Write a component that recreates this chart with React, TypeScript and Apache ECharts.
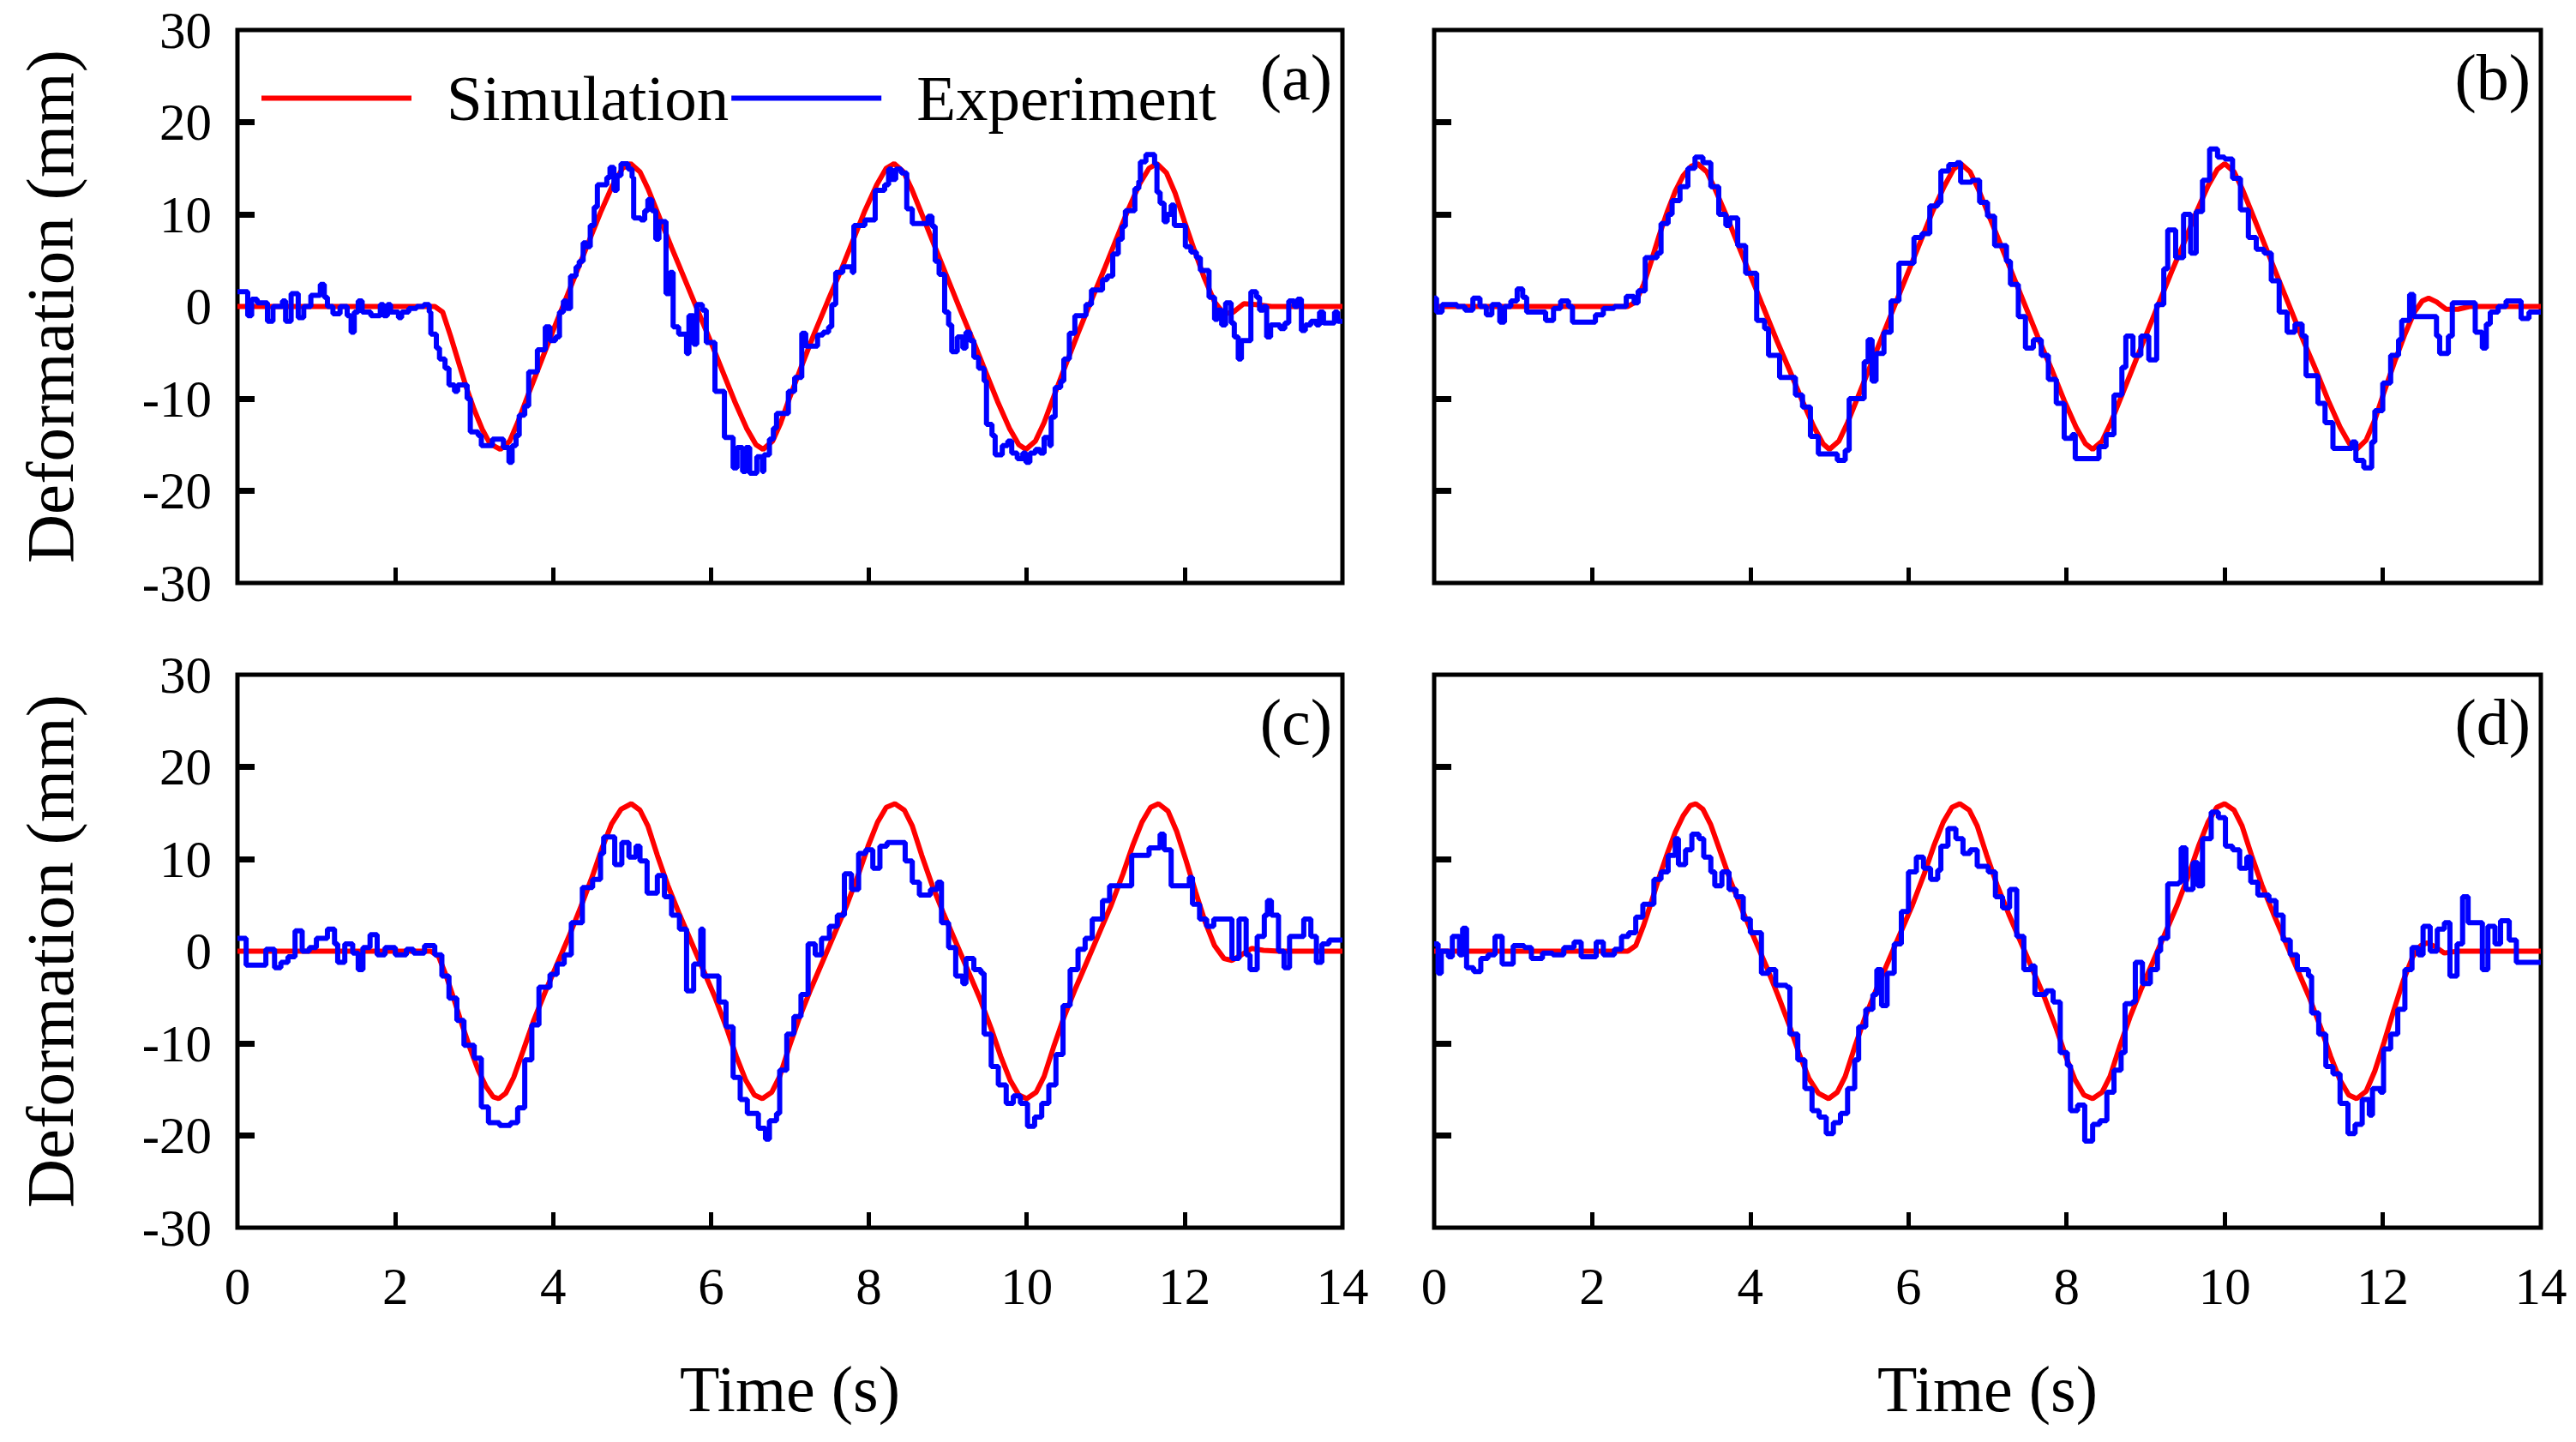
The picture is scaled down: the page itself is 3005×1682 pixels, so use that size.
import { useEffect, useRef } from 'react'
import * as echarts from 'echarts'

const FONT = '"Liberation Serif", "Times New Roman", serif'

// tick values
const xTicks = [2, 4, 6, 8, 10, 12]
const yTicks = [-20, -10, 10, 20]
const panelLabels = ['(a)', '(b)', '(c)', '(d)']

// simulation curves [time, deformation]
const simA = [[0,0],[2.5,0],[2.6,-0.6],[2.7,-3.2],[2.8,-6.0],[2.9,-8.8],[3.0,-11.2],[3.1,-13.3],[3.2,-14.9],[3.33,-15.5],[3.45,-14.6],[3.55,-12.6],[3.7,-9.2],[3.85,-5.9],[4.0,-2.6],[4.15,0.6],[4.3,3.8],[4.45,7.0],[4.6,10.2],[4.75,13.1],[4.88,15.0],[4.98,15.5],[5.1,14.6],[5.2,12.8],[5.35,9.6],[5.5,6.4],[5.66,3.1],[5.82,-0.2],[6.0,-3.9],[6.15,-7.1],[6.3,-10.3],[6.45,-13.2],[6.57,-15.0],[6.66,-15.5],[6.78,-14.6],[6.88,-12.7],[7.0,-9.8],[7.15,-6.4],[7.3,-3.1],[7.48,0.6],[7.65,4.0],[7.8,7.2],[7.95,10.4],[8.1,13.2],[8.22,15.0],[8.32,15.5],[8.44,14.6],[8.55,12.6],[8.7,9.4],[8.85,6.2],[9.0,3.0],[9.15,-0.2],[9.33,-3.9],[9.48,-7.1],[9.63,-10.3],[9.78,-13.2],[9.9,-15.0],[9.99,-15.5],[10.11,-14.6],[10.22,-12.6],[10.35,-9.6],[10.5,-6.2],[10.65,-2.9],[10.82,0.7],[10.98,4.0],[11.13,7.2],[11.28,10.4],[11.43,13.3],[11.55,15.0],[11.65,15.5],[11.77,14.5],[11.88,12.3],[12.0,9.2],[12.12,6.2],[12.25,3.1],[12.38,0.5],[12.5,-0.8],[12.62,-0.6],[12.75,0.3],[12.9,0.2],[13.1,0],[14,0]]

const simB = [[0,0],[2.45,0],[2.55,0.5],[2.65,2.4],[2.75,5.0],[2.85,7.8],[2.95,10.3],[3.05,12.5],[3.15,14.2],[3.25,15.2],[3.33,15.5],[3.45,14.6],[3.55,12.8],[3.7,9.8],[3.85,6.6],[4.0,3.4],[4.16,0],[4.33,-3.6],[4.5,-7.0],[4.65,-10.1],[4.8,-13.0],[4.92,-14.9],[5.0,-15.5],[5.12,-14.6],[5.23,-12.6],[5.38,-9.4],[5.53,-6.2],[5.68,-3.0],[5.84,0.4],[6.0,3.8],[6.15,7.0],[6.3,10.2],[6.45,13.0],[6.57,14.9],[6.66,15.5],[6.78,14.6],[6.89,12.6],[7.04,9.4],[7.19,6.2],[7.34,3.0],[7.5,-0.4],[7.66,-3.8],[7.82,-7.0],[7.97,-10.2],[8.12,-13.1],[8.24,-14.9],[8.33,-15.5],[8.45,-14.6],[8.56,-12.6],[8.71,-9.4],[8.86,-6.2],[9.01,-3.0],[9.17,0.4],[9.33,3.8],[9.49,7.0],[9.64,10.2],[9.79,13.1],[9.91,14.9],[10.0,15.5],[10.12,14.6],[10.23,12.6],[10.38,9.4],[10.53,6.2],[10.68,3.0],[10.84,-0.4],[11.0,-3.8],[11.16,-7.0],[11.31,-10.2],[11.46,-13.1],[11.58,-14.9],[11.67,-15.5],[11.79,-14.5],[11.9,-12.3],[12.02,-9.2],[12.15,-6.0],[12.28,-3.0],[12.4,-0.6],[12.5,0.6],[12.58,0.9],[12.68,0.5],[12.8,-0.3],[12.95,-0.3],[13.1,0],[14,0]]

const simC = [[0,0],[2.45,0],[2.55,-0.6],[2.65,-2.8],[2.75,-5.4],[2.85,-8.1],[2.95,-10.6],[3.05,-12.9],[3.15,-14.7],[3.24,-15.8],[3.31,-16.0],[3.4,-15.4],[3.5,-13.7],[3.62,-10.8],[3.75,-7.6],[3.9,-4.4],[4.05,-1.4],[4.2,1.6],[4.35,4.8],[4.5,8.2],[4.62,11.2],[4.74,13.8],[4.86,15.4],[4.99,16.0],[5.1,15.3],[5.2,13.6],[5.32,10.4],[5.45,7.2],[5.6,4.0],[5.75,1.0],[5.9,-2.0],[6.05,-5.0],[6.2,-8.4],[6.32,-11.4],[6.44,-14.0],[6.55,-15.6],[6.65,-16.0],[6.77,-15.3],[6.87,-13.6],[6.99,-10.4],[7.12,-7.2],[7.27,-4.0],[7.42,-1.0],[7.57,2.0],[7.72,5.0],[7.87,8.4],[7.99,11.4],[8.11,14.0],[8.22,15.6],[8.33,16.0],[8.45,15.3],[8.55,13.6],[8.67,10.4],[8.8,7.2],[8.95,4.0],[9.1,1.0],[9.25,-2.0],[9.4,-5.0],[9.55,-8.4],[9.67,-11.4],[9.79,-14.0],[9.9,-15.6],[10.0,-16.0],[10.12,-15.3],[10.22,-13.6],[10.34,-10.4],[10.47,-7.2],[10.62,-4.0],[10.77,-1.0],[10.92,2.0],[11.07,5.0],[11.22,8.4],[11.34,11.4],[11.46,14.0],[11.57,15.6],[11.67,16.0],[11.79,15.2],[11.9,13.0],[12.02,9.8],[12.14,6.4],[12.26,3.2],[12.38,0.6],[12.5,-0.8],[12.6,-1.0],[12.72,-0.4],[12.85,0.3],[13.0,0.1],[13.2,0],[14,0]]

const simD = [[0,0],[2.45,0],[2.55,0.6],[2.65,2.8],[2.75,5.4],[2.85,8.1],[2.95,10.6],[3.05,12.9],[3.15,14.7],[3.24,15.8],[3.31,16.0],[3.4,15.4],[3.5,13.7],[3.62,10.8],[3.75,7.6],[3.9,4.4],[4.05,1.4],[4.2,-1.6],[4.35,-4.8],[4.5,-8.2],[4.62,-11.2],[4.74,-13.8],[4.86,-15.4],[4.99,-16.0],[5.1,-15.3],[5.2,-13.6],[5.32,-10.4],[5.45,-7.2],[5.6,-4.0],[5.75,-1.0],[5.9,2.0],[6.05,5.0],[6.2,8.4],[6.32,11.4],[6.44,14.0],[6.55,15.6],[6.65,16.0],[6.77,15.3],[6.87,13.6],[6.99,10.4],[7.12,7.2],[7.27,4.0],[7.42,1.0],[7.57,-2.0],[7.72,-5.0],[7.87,-8.4],[7.99,-11.4],[8.11,-14.0],[8.22,-15.6],[8.33,-16.0],[8.45,-15.3],[8.55,-13.6],[8.67,-10.4],[8.8,-7.2],[8.95,-4.0],[9.1,-1.0],[9.25,2.0],[9.4,5.0],[9.55,8.4],[9.67,11.4],[9.79,14.0],[9.9,15.6],[10.0,16.0],[10.12,15.3],[10.22,13.6],[10.34,10.4],[10.47,7.2],[10.62,4.0],[10.77,1.0],[10.92,-2.0],[11.07,-5.0],[11.22,-8.4],[11.34,-11.4],[11.46,-14.0],[11.57,-15.6],[11.67,-16.0],[11.79,-15.2],[11.9,-13.0],[12.02,-9.8],[12.14,-6.4],[12.26,-3.2],[12.38,-0.6],[12.48,0.6],[12.56,0.9],[12.66,0.5],[12.78,-0.2],[12.95,0],[14,0]]

// experiment (stepped) [time, deformation]
const expA = [[0,1.6],[0.13,-1.0],[0.18,0.8],[0.25,0.4],[0.38,-1.6],[0.45,0],[0.57,0.6],[0.61,-1.6],[0.68,1.4],[0.77,-1.2],[0.84,0],[0.93,1.2],[1.05,2.4],[1.1,1.0],[1.14,0],[1.21,-0.8],[1.3,0],[1.39,-1.0],[1.44,-2.8],[1.48,-0.6],[1.53,0.6],[1.58,-0.6],[1.69,-1.0],[1.81,0.2],[1.85,-1.0],[1.9,0.2],[1.94,-0.6],[2.04,-1.2],[2.08,-0.6],[2.17,-0.2],[2.27,0],[2.36,0.2],[2.43,-0.6],[2.45,-3.0],[2.52,-4.5],[2.56,-5.7],[2.63,-6.7],[2.68,-8.5],[2.75,-9.2],[2.79,-8.5],[2.91,-10.0],[2.95,-13.6],[3.05,-14.0],[3.09,-15.1],[3.23,-14.4],[3.37,-15.3],[3.44,-16.9],[3.48,-15.1],[3.53,-14.0],[3.57,-11.8],[3.64,-10.8],[3.69,-7.1],[3.8,-4.7],[3.9,-2.2],[3.96,-3.7],[4.03,-3.3],[4.08,-0.6],[4.13,0.6],[4.17,-0.2],[4.22,3.3],[4.29,4.3],[4.33,4.9],[4.38,6.9],[4.42,6.5],[4.47,8.8],[4.52,10.8],[4.56,13.2],[4.68,14.0],[4.72,15.1],[4.77,12.6],[4.81,14.2],[4.86,15.5],[4.95,14.9],[5.0,14.0],[5.02,9.6],[5.11,9.4],[5.16,10.4],[5.2,11.6],[5.25,10.4],[5.3,7.3],[5.34,9.2],[5.43,1.4],[5.48,3.7],[5.52,-2.2],[5.59,-3.0],[5.69,-5.1],[5.72,-1.0],[5.78,-4.1],[5.82,0.2],[5.89,-0.4],[5.94,-3.9],[6.05,-9.2],[6.17,-14.2],[6.28,-17.5],[6.33,-15.3],[6.4,-17.9],[6.44,-15.3],[6.49,-18.1],[6.58,-16.3],[6.65,-17.9],[6.67,-16.1],[6.74,-14.4],[6.79,-13.2],[6.83,-11.6],[6.98,-9.2],[7.06,-7.7],[7.15,-2.9],[7.2,-4.3],[7.35,-3.1],[7.42,-2.8],[7.49,-2.2],[7.53,0.2],[7.58,3.7],[7.67,4.3],[7.79,3.7],[7.81,8.8],[7.95,9.4],[8.08,12.6],[8.2,13.2],[8.25,14.9],[8.29,13.8],[8.34,14.9],[8.41,14.5],[8.48,10.6],[8.55,9.0],[8.75,9.8],[8.8,8.7],[8.84,4.9],[8.89,3.5],[8.96,-0.6],[9.01,-2.0],[9.05,-4.9],[9.12,-3.3],[9.19,-4.5],[9.23,-2.8],[9.28,-3.7],[9.33,-5.5],[9.39,-6.7],[9.46,-8.1],[9.49,-12.8],[9.56,-14.0],[9.6,-16.1],[9.69,-15.1],[9.76,-14.6],[9.81,-15.9],[9.88,-16.5],[9.95,-15.9],[9.99,-16.9],[10.04,-15.9],[10.11,-15.5],[10.17,-15.9],[10.22,-14.2],[10.29,-15.1],[10.31,-12.0],[10.36,-8.8],[10.43,-8.1],[10.47,-5.7],[10.54,-2.9],[10.61,-1.0],[10.75,0.2],[10.82,1.8],[10.96,2.9],[11.02,3.3],[11.09,5.7],[11.16,7.3],[11.21,8.7],[11.25,10.4],[11.37,12.8],[11.42,13.6],[11.44,15.7],[11.51,16.5],[11.62,15.5],[11.65,12.4],[11.69,11.2],[11.74,9.2],[11.78,10.0],[11.83,11.0],[11.87,8.8],[12.01,6.5],[12.08,5.9],[12.15,5.3],[12.2,3.9],[12.31,1.0],[12.38,-1.4],[12.42,-0.4],[12.47,-2.0],[12.52,0.4],[12.59,-1.8],[12.63,-3.3],[12.68,-5.7],[12.72,-3.7],[12.84,1.6],[12.91,1.0],[12.95,-0.4],[13.0,0],[13.04,-3.3],[13.09,-2.0],[13.21,-2.4],[13.27,-1.8],[13.32,0.6],[13.39,0],[13.43,0.8],[13.48,-2.6],[13.53,-2.0],[13.6,-1.6],[13.67,-2.0],[13.71,-0.6],[13.76,-1.8],[13.9,-0.6],[13.94,-1.6],[14,-1.6]]

const expB = [[0,0.9],[0.03,-0.6],[0.1,0.2],[0.29,0],[0.39,-0.4],[0.49,0.9],[0.58,0],[0.66,-0.9],[0.73,0.2],[0.83,-1.7],[0.89,0],[0.97,0.6],[1.05,1.9],[1.12,1.0],[1.17,-0.6],[1.41,-1.5],[1.51,-0.2],[1.6,0.6],[1.7,0],[1.75,-1.7],[2.04,-0.9],[2.14,-0.2],[2.28,0],[2.43,1.1],[2.53,0.4],[2.58,1.7],[2.67,5.3],[2.82,5.8],[2.87,9.0],[2.96,10.0],[3.01,11.5],[3.11,13.0],[3.21,15.0],[3.3,16.2],[3.4,15.6],[3.5,13.0],[3.6,10.0],[3.69,8.8],[3.74,9.6],[3.84,6.6],[3.94,3.6],[4.08,-1.5],[4.18,-2.4],[4.23,-5.3],[4.37,-7.7],[4.57,-9.6],[4.66,-10.9],[4.76,-14.1],[4.86,-16.0],[5.1,-16.7],[5.2,-15.6],[5.25,-10.0],[5.44,-6.0],[5.49,-3.6],[5.54,-8.1],[5.59,-5.1],[5.69,-2.8],[5.78,0.6],[5.88,4.7],[6.07,7.5],[6.17,7.9],[6.27,10.9],[6.37,11.3],[6.41,14.7],[6.51,15.4],[6.61,15.6],[6.66,13.5],[6.8,13.7],[6.9,11.3],[7.0,9.8],[7.09,6.6],[7.24,4.9],[7.29,2.4],[7.39,-1.1],[7.48,-4.5],[7.58,-3.6],[7.68,-5.3],[7.77,-7.9],[7.87,-10.5],[7.97,-14.3],[8.07,-13.9],[8.11,-16.5],[8.41,-15.2],[8.5,-13.9],[8.6,-9.6],[8.7,-6.6],[8.75,-3.2],[8.84,-5.3],[8.94,-3.2],[9.04,-5.8],[9.14,0.2],[9.23,4.1],[9.28,8.3],[9.38,5.3],[9.48,10.0],[9.57,5.8],[9.64,10.3],[9.72,13.7],[9.81,17.1],[9.91,16.2],[10.0,16.0],[10.1,13.9],[10.2,10.5],[10.3,7.5],[10.4,6.2],[10.5,5.8],[10.59,2.8],[10.69,-0.6],[10.79,-2.8],[10.89,-1.9],[10.98,-3.2],[11.03,-7.5],[11.18,-10.5],[11.27,-12.6],[11.37,-15.4],[11.61,-14.7],[11.66,-16.7],[11.76,-17.5],[11.86,-14.7],[11.9,-11.3],[12.0,-8.3],[12.1,-5.3],[12.2,-3.6],[12.24,-1.5],[12.34,1.3],[12.39,-1.1],[12.68,-3.2],[12.72,-5.1],[12.83,-3.2],[12.88,0.4],[13.17,-2.8],[13.26,-4.5],[13.31,-1.9],[13.36,-0.6],[13.46,0],[13.56,0.6],[13.75,-1.3],[13.85,-0.6],[14,-0.6]]

const expC = [[0,1.4],[0.11,-1.5],[0.36,0.2],[0.47,-1.8],[0.55,-1.2],[0.64,-0.6],[0.73,2.2],[0.82,0],[0.91,0.4],[1.0,1.4],[1.14,2.4],[1.23,0.8],[1.27,-1.2],[1.36,0.8],[1.46,-0.2],[1.53,-2.0],[1.59,0.4],[1.68,1.8],[1.77,-0.4],[1.87,0.4],[2.0,-0.4],[2.14,0.2],[2.23,-0.2],[2.37,0.6],[2.5,-0.4],[2.59,-2.7],[2.68,-5.1],[2.78,-7.5],[2.87,-10.2],[3.0,-11.6],[3.09,-16.9],[3.18,-18.6],[3.32,-18.9],[3.46,-18.6],[3.55,-17.0],[3.64,-11.8],[3.73,-8.0],[3.82,-3.9],[3.96,-2.5],[4.05,-1.4],[4.14,-0.4],[4.23,3.1],[4.37,6.9],[4.5,7.8],[4.6,10.6],[4.64,12.4],[4.78,9.4],[4.87,11.8],[4.96,10.2],[5.05,11.4],[5.1,9.8],[5.19,6.3],[5.32,8.2],[5.41,5.9],[5.5,3.9],[5.6,2.4],[5.69,-4.3],[5.78,-1.4],[5.87,2.4],[5.9,-2.7],[6.1,-5.5],[6.19,-8.2],[6.28,-13.7],[6.37,-16.1],[6.46,-17.6],[6.6,-19.2],[6.69,-20.4],[6.74,-18.4],[6.83,-17.6],[6.87,-12.9],[6.96,-9.0],[7.05,-7.1],[7.14,-4.7],[7.23,0.8],[7.32,-0.4],[7.4,1.4],[7.5,2.7],[7.6,3.9],[7.69,8.4],[7.78,6.7],[7.87,10.6],[7.96,11.0],[8.05,9.0],[8.14,11.4],[8.23,11.8],[8.46,9.8],[8.55,7.5],[8.64,6.1],[8.78,6.7],[8.87,7.5],[8.92,3.1],[9.01,0.4],[9.1,-2.7],[9.19,-3.5],[9.23,-0.8],[9.33,-2.0],[9.42,-2.4],[9.46,-9.0],[9.55,-12.5],[9.64,-14.5],[9.74,-16.5],[9.83,-15.7],[9.92,-16.5],[10.01,-19.0],[10.1,-18.0],[10.19,-16.5],[10.28,-14.5],[10.37,-11.2],[10.46,-5.9],[10.55,-2.0],[10.65,0.2],[10.74,1.4],[10.83,3.5],[10.96,5.5],[11.05,7.1],[11.33,10.4],[11.55,11.2],[11.69,12.7],[11.74,11.0],[11.83,7.1],[12.06,8.0],[12.1,5.1],[12.19,3.5],[12.28,2.7],[12.37,3.5],[12.6,-0.8],[12.69,3.5],[12.78,-0.4],[12.83,-2.0],[12.92,1.6],[13.01,3.9],[13.05,5.5],[13.1,3.9],[13.19,0],[13.26,-1.8],[13.33,1.6],[13.51,3.5],[13.6,1.6],[13.67,-1.2],[13.74,0.8],[13.83,1.2],[14,1.2]]

const expD = [[0,0.8],[0.05,-2.4],[0.09,0],[0.18,-0.6],[0.23,1.6],[0.32,-0.4],[0.36,2.5],[0.41,-1.8],[0.5,-2.2],[0.59,-0.8],[0.68,-0.4],[0.77,1.6],[0.86,-1.4],[1.0,0.6],[1.14,0.4],[1.23,-0.8],[1.37,-0.2],[1.5,-0.4],[1.64,0.4],[1.77,1.0],[1.86,-0.6],[2.05,1.0],[2.14,-0.4],[2.28,0.2],[2.37,1.6],[2.46,2.0],[2.55,3.7],[2.64,5.1],[2.78,7.8],[2.87,8.6],[2.96,10.4],[3.05,12.2],[3.09,9.4],[3.18,11.0],[3.26,12.7],[3.35,12.2],[3.41,10.2],[3.5,8.6],[3.55,7.1],[3.64,8.6],[3.73,6.7],[3.82,5.9],[3.91,3.5],[4.0,2.0],[4.14,-2.4],[4.23,-2.0],[4.32,-3.7],[4.46,-3.9],[4.5,-9.0],[4.6,-11.8],[4.69,-14.9],[4.78,-17.3],[4.87,-18.0],[4.96,-19.8],[5.05,-18.6],[5.14,-17.6],[5.23,-14.9],[5.32,-11.8],[5.37,-8.2],[5.46,-6.3],[5.55,-4.7],[5.6,-2.0],[5.66,-5.9],[5.73,-2.4],[5.82,0.8],[5.91,4.3],[6.0,8.6],[6.1,10.2],[6.19,9.0],[6.28,7.8],[6.37,8.8],[6.41,11.4],[6.5,13.3],[6.6,12.2],[6.69,10.6],[6.78,11.0],[6.87,9.2],[7.01,8.6],[7.1,5.9],[7.19,4.7],[7.28,6.7],[7.37,1.6],[7.46,-2.0],[7.55,-1.6],[7.6,-4.7],[7.74,-4.3],[7.83,-5.5],[7.92,-11.0],[8.01,-12.4],[8.05,-17.3],[8.14,-16.7],[8.23,-20.6],[8.33,-18.8],[8.42,-18.4],[8.51,-15.3],[8.6,-12.9],[8.69,-11.0],[8.74,-5.7],[8.83,-5.5],[8.87,-1.2],[8.96,-3.5],[9.06,-2.0],[9.15,0],[9.19,1.4],[9.28,7.3],[9.42,7.5],[9.45,11.2],[9.51,6.7],[9.6,9.6],[9.66,7.1],[9.72,12.2],[9.83,15.1],[9.92,14.5],[10.01,11.4],[10.1,11.0],[10.19,9.0],[10.28,10.2],[10.33,7.5],[10.42,6.1],[10.56,5.5],[10.65,3.9],[10.74,1.2],[10.83,-0.4],[10.92,-2.0],[11.06,-2.7],[11.1,-6.7],[11.19,-9.0],[11.28,-12.5],[11.37,-13.3],[11.46,-16.5],[11.56,-19.8],[11.65,-18.8],[11.74,-16.1],[11.83,-17.8],[11.87,-14.9],[11.97,-15.3],[12.01,-10.6],[12.1,-9.0],[12.19,-6.3],[12.28,-2.0],[12.37,0.4],[12.45,-0.4],[12.51,2.7],[12.6,0],[12.69,2.4],[12.78,3.1],[12.85,-2.7],[12.94,0.8],[13.01,5.9],[13.08,3.1],[13.26,-2.0],[13.33,2.7],[13.42,0.8],[13.49,3.3],[13.6,1.2],[13.69,-1.2],[14,-1.2]]

const simData = [simA, simB, simC, simD]
const expData = [expA, expB, expC, expD]

export default function App() {
  const chartRef = useRef<HTMLDivElement>(null)

  useEffect(() => {
    if (!chartRef.current) return
    document.body.style.margin = '0'
    const chart = echarts.init(chartRef.current, null, { renderer: 'svg' })

    // panel rectangles
    const grids = [
      { left: 277, top: 35, width: 1289, height: 645 },
      { left: 1673, top: 35, width: 1291, height: 645 },
      { left: 277, top: 787, width: 1289, height: 645 },
      { left: 1673, top: 787, width: 1291, height: 645 }
    ]

    const option: echarts.EChartsOption = {
      animation: false,
      backgroundColor: '#fff',
      grid: grids.map(g => ({
        ...g,
        show: true,
        borderColor: '#000',
        borderWidth: 5,
        backgroundColor: 'transparent'
      })),
      legend: {
        data: ['Simulation', 'Experiment'],
        left: 300,
        top: 72,
        icon: 'rect',
        itemWidth: 175,
        itemHeight: 6,
        itemGap: 3,
        textStyle: {
          fontFamily: FONT,
          fontSize: 75,
          color: '#000',
          padding: [0, 0, 0, 36]
        }
      },
      xAxis: grids.map((_, i) => ({
        type: 'value',
        gridIndex: i,
        min: 0,
        max: 14,
        interval: 2,
        axisLine: { show: false, onZero: false },
        axisTick: {
          show: true,
          inside: true,
          length: 18,
          customValues: xTicks,
          lineStyle: { color: '#000', width: 5 }
        },
        axisLabel: {
          show: i >= 2,
          margin: 38,
          fontFamily: FONT,
          fontSize: 61,
          color: '#000'
        },
        splitLine: { show: false },
        name: i >= 2 ? 'Time (s)' : '',
        nameLocation: 'middle',
        nameGap: 150,
        nameTextStyle: { fontFamily: FONT, fontSize: 76, color: '#000' }
      })),
      yAxis: grids.map((_, i) => ({
        type: 'value',
        gridIndex: i,
        min: -30,
        max: 30,
        interval: 10,
        axisLine: { show: false, onZero: false },
        axisTick: {
          show: true,
          inside: true,
          length: 20,
          customValues: yTicks,
          lineStyle: { color: '#000', width: 7 }
        },
        axisLabel: {
          show: i % 2 === 0,
          margin: 30,
          fontFamily: FONT,
          fontSize: 61,
          color: '#000'
        },
        splitLine: { show: false }
      })),
      graphic: [
        ...[0, 2].map(i => ({
          type: 'text' as const,
          x: 58,
          y: grids[i].top + grids[i].height / 2,
          rotation: Math.PI / 2,
          style: {
            text: 'Deformation (mm)',
            font: `79px ${FONT}`,
            fill: '#000',
            textAlign: 'center' as const,
            textVerticalAlign: 'middle' as const
          }
        })),
        ...grids.map((g, i) => ({
          type: 'text' as const,
          x: g.left + g.width - 12,
          y: g.top + 55,
          style: {
            text: panelLabels[i],
            font: `76px ${FONT}`,
            fill: '#000',
            textAlign: 'right' as const,
            textVerticalAlign: 'middle' as const
          }
        }))
      ],
      series: [
        ...simData.map((d, i) => ({
          name: 'Simulation',
          type: 'line' as const,
          xAxisIndex: i,
          yAxisIndex: i,
          data: d,
          showSymbol: false,
          symbol: 'none',
          itemStyle: { color: '#ff0000' },
          lineStyle: { color: '#ff0000', width: 6 },
          z: 2
        })),
        ...expData.map((d, i) => ({
          name: 'Experiment',
          type: 'line' as const,
          xAxisIndex: i,
          yAxisIndex: i,
          data: d,
          step: 'end' as const,
          showSymbol: false,
          symbol: 'none',
          itemStyle: { color: '#0000ff' },
          lineStyle: { color: '#0000ff', width: 6 },
          z: 3
        }))
      ]
    }

    chart.setOption(option)

    return () => {
      chart.dispose()
    }
  }, [])

  return <div ref={chartRef} style={{ width: 3005, height: 1682 }} />
}
